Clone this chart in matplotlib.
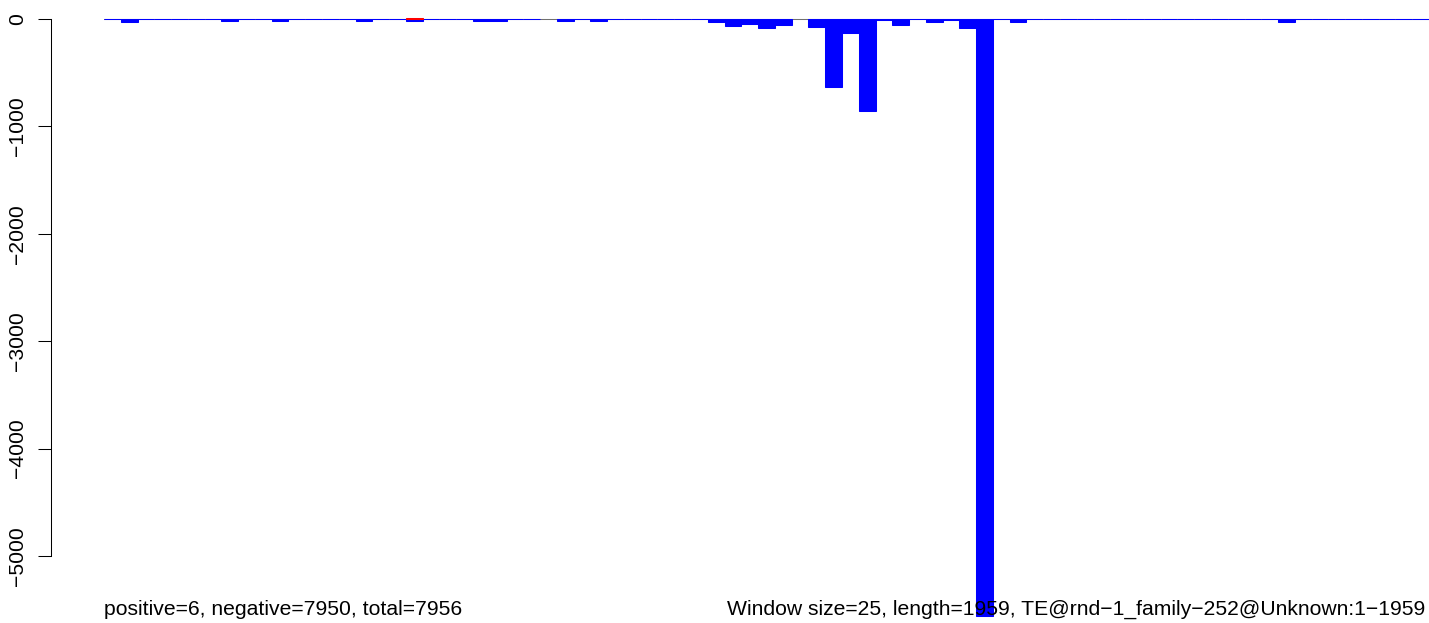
import numpy as np
import matplotlib
matplotlib.use("Agg")
import matplotlib.pyplot as plt

plt.rcParams["font.family"] = ["Liberation Sans", "DejaVu Sans"]
plt.rcParams["font.size"] = 15.2

# window values (window size 25 over a 1959 bp element -> 79 windows)
n_windows = 79
negative = np.zeros(n_windows)
neg_idx = [1, 7, 10, 15, 18, 22, 23, 27, 29, 36, 37, 38, 39, 40, 42, 43, 44,
           45, 46, 47, 49, 50, 51, 52, 54, 70]
neg_val = [-25, -15, -15, -15, -15, -15, -15, -15, -15, -28, -63, -44, -81, -53,
           -72, -631, -128, -855, -10, -53, -25, -8, -81, -5560, -25, -25]
negative[neg_idx] = neg_val
missing_idx = [26, 41]  # windows without a bar
negative[missing_idx] = np.nan

positive = np.zeros(n_windows)
positive[18] = 6

y_ticks = [0, -1000, -2000, -3000, -4000, -5000]
left_label = "positive=6, negative=7950, total=7956"
right_label = "Window size=25, length=1959, TE@rnd\u22121_family\u2212252@Unknown:1\u22121959"

W, H = 1429, 623
fig = plt.figure(figsize=(W / 100, H / 100), dpi=100)
ax = fig.add_axes([104 / W, 0, 1 - 104 / W, 1])

x = np.arange(n_windows)
ok = ~np.isnan(negative)
ax.axhline(0, color="#707070", lw=0.75, zorder=1)
ax.bar(x[ok], negative[ok], width=1, align="edge", color="blue",
       edgecolor="blue", lw=0.75, zorder=2)
pos = positive > 0
ax.bar(x[pos], positive[pos], width=1, align="edge", color="red",
       edgecolor="red", lw=0.75, zorder=3)

ax.set_xlim(0, n_windows)
ax.set_ylim(-604 / 0.1074, 19 / 0.1074)

for s in ["top", "right", "bottom"]:
    ax.spines[s].set_visible(False)
ax.spines["left"].set_position(("outward", 53 * 0.72))
ax.spines["left"].set_bounds(-5000, 0)
ax.spines["left"].set_linewidth(0.75)
ax.set_xticks([])
ax.set_yticks(y_ticks)
ax.tick_params(axis="y", direction="out", length=13 * 0.72, width=0.75,
               pad=8, labelrotation=90)
for lab in ax.get_yticklabels():
    lab.set_verticalalignment("center")

fig.text(104 / W, 8 / H, left_label, ha="left", va="baseline")
fig.text(727 / W, 8 / H, right_label, ha="left", va="baseline")

fig.savefig("out.png", dpi=100)
